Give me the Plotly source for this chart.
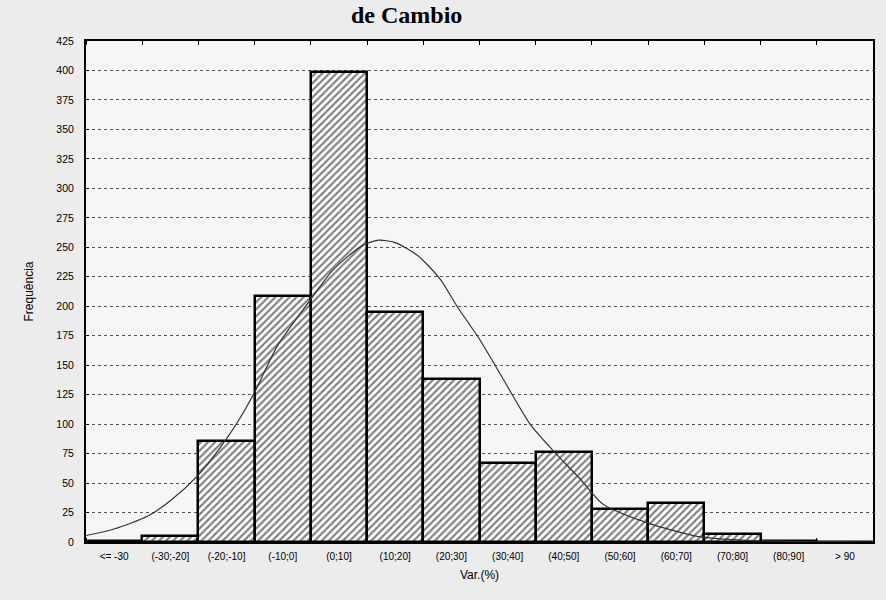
import plotly.graph_objects as go

categories = ["<= -30", "(-30;-20]", "(-20;-10]", "(-10;0]", "(0;10]", "(10;20]",
              "(20;30]", "(30;40]", "(40;50]", "(50;60]", "(60;70]", "(70;80]",
              "(80;90]", "> 90"]
frequencies = [1, 5, 86, 209, 399, 195, 138, 67, 76, 28, 33, 7, 1, 0]

# expected normal curve (x in category-index units)
curve_x = [-0.5, 0.0, 0.6, 1.0, 1.5, 1.9, 2.2, 2.5, 2.9, 3.5, 3.9, 4.4, 4.7, 5.0,
           5.4, 5.8, 6.1, 6.5, 6.9, 7.4, 7.8, 8.3, 8.7, 9.5, 10.4, 11.0, 12.0, 13.5]
curve_y = [5.5, 11, 22, 35, 57, 81, 102, 127, 166, 206, 231, 251, 256, 254,
           243, 223, 200, 172, 140, 100, 78, 53, 32, 16, 4.5, 2, 0.5, 0]

y_ticks = list(range(0, 426, 25))
x_pos = list(range(len(categories)))

fig = go.Figure()
fig.add_trace(go.Bar(
    x=x_pos, y=frequencies, width=1.0,
    marker=dict(color="white", line=dict(color="black", width=2.5),
                pattern=dict(shape="/", fgcolor="black", bgcolor="white",
                             size=5, solidity=0.42)),
    showlegend=False, hoverinfo="skip"))
fig.add_trace(go.Scatter(
    x=curve_x, y=curve_y, mode="lines",
    line=dict(color="#333333", width=1.2, shape="spline", smoothing=0.7),
    showlegend=False, hoverinfo="skip"))

fig.update_layout(
    width=886, height=600,
    margin=dict(l=86, r=11, t=41, b=58),
    paper_bgcolor="#ececec", plot_bgcolor="#f6f6f6",
    font=dict(family="Arial, Liberation Sans, sans-serif", color="black", size=10),
    bargap=0,
    annotations=[dict(text="<b>de Cambio</b>", xref="paper", yref="paper",
                      x=0.407, y=1.0818, xanchor="center", yanchor="top",
                      showarrow=False,
                      font=dict(family="Liberation Serif, Times New Roman, serif",
                                size=24, color="black"))],
)
fig.update_xaxes(
    range=[-0.5, 13.5], tickmode="array", tickvals=x_pos, ticktext=categories,
    ticks="", showgrid=False, zeroline=False,
    showline=True, linecolor="black", linewidth=2, mirror="allticks",
    minor=dict(tick0=-0.5, dtick=1, ticks="inside", ticklen=4, tickcolor="black", showgrid=False),
    tickfont=dict(size=10), ticklabelstandoff=4,
    title=dict(text="Var.(%)", font=dict(size=12), standoff=10),
)
fig.update_yaxes(
    range=[0, 425], tickmode="array", tickvals=y_ticks,
    ticks="inside", ticklen=3, tickcolor="black",
    showgrid=True, gridcolor="#555555", griddash="dot", gridwidth=1,
    zeroline=False, showline=True, linecolor="black", linewidth=2, mirror=True,
    tickfont=dict(size=10.5), ticklabelstandoff=8,
    title=dict(text="Frequência", font=dict(size=12), standoff=20),
)

fig.write_html("out.html")
